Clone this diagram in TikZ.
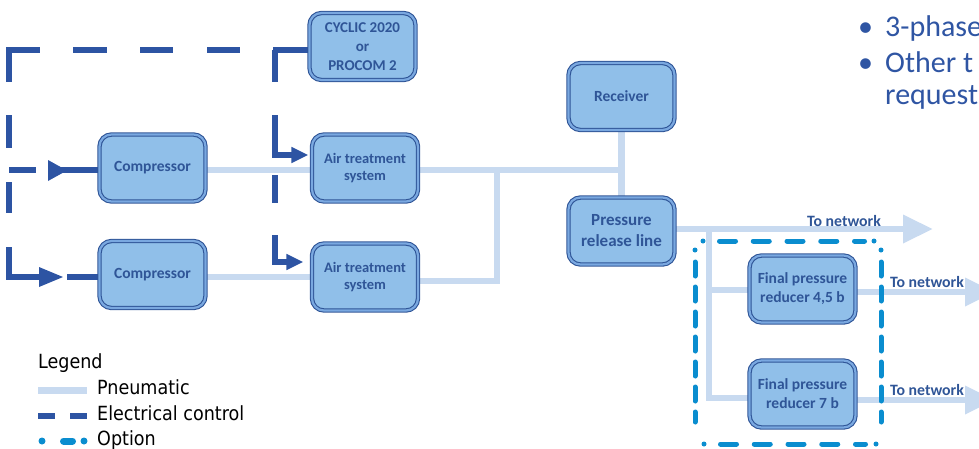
\documentclass[tikz,border=0pt]{standalone}
\usepackage{fontspec}
\setmainfont{Carlito}
\newfontfamily\legfont{DejaVu Sans Condensed}
\usetikzlibrary{arrows.meta}
\definecolor{boxdark}{HTML}{2F5597}
\definecolor{boxfill}{HTML}{90BFE9}
\definecolor{boxgap}{HTML}{7AA8E0}
\definecolor{pneuc}{HTML}{C8DAF0}
\definecolor{elecc}{HTML}{2D54A3}
\definecolor{optc}{HTML}{0A8DCF}
\definecolor{bulc}{HTML}{2F55A3}
\pgfdeclarelayer{bg}
\pgfsetlayers{bg,main}
\tikzset{
  box/.style={rounded corners=12pt, draw=boxdark, line width=1.1pt, double=boxgap,
    double distance=2.2pt, fill=boxfill, minimum width=106pt, minimum height=67pt,
    align=center, text=boxdark, inner sep=1pt},
  pneu/.style={draw=pneuc, line width=6.5pt},
  pneuarrow/.style={pneu, -{Triangle[length=30pt,width=27pt]}},
  elec/.style={draw=elecc, line width=5.5pt},
  elecarrow/.style={elec, -{Triangle[length=17pt,width=15pt]}},
  opt/.style={draw=optc, line width=5pt, line cap=round},
  netlabel/.style={text=boxdark, font=\bfseries\fontsize{15.8}{18}\selectfont, inner sep=0pt},
  legtext/.style={font=\legfont\fontsize{19.5}{22}\selectfont, text=black, inner sep=0pt, anchor=base west},
  bultext/.style={font=\fontsize{30}{34}\selectfont, text=bulc, inner sep=0pt, anchor=base west},
}
\begin{document}
\begin{tikzpicture}[x=1pt,y=-1pt]
\useasboundingbox (0,0) rectangle (979,448);
\begin{scope}
\clip (0,0) rectangle (979,448);
% ---------------- nodes
\node[box, font=\bfseries\fontsize{15}{19}\selectfont] (cyc) at (362.5,46.5) {CYCLIC 2020\\or\\PROCOM 2};
\node[box, font=\bfseries\fontsize{15.5}{19}\selectfont] (cmp1) at (152.5,168) {Compressor};
\node[box, font=\bfseries\fontsize{15.5}{19}\selectfont] (cmp2) at (152.5,274.5) {Compressor};
\node[box, font=\bfseries\fontsize{14.5}{17.5}\selectfont] (ats1) at (365,168) {Air treatment\\system};
\node[box, font=\bfseries\fontsize{14.5}{17.5}\selectfont] (ats2) at (365,277) {Air treatment\\system};
\node[box, font=\bfseries\fontsize{15.5}{19}\selectfont] (rcv) at (621.5,96.5) {Receiver};
\node[box, font=\bfseries\fontsize{17}{21}\selectfont] (prl) at (621.5,231) {Pressure\\release line};
\node[box, font=\bfseries\fontsize{15.5}{19}\selectfont] (fpr1) at (802.5,289) {Final pressure\\reducer 4,5 b};
\node[box, font=\bfseries\fontsize{15.5}{19}\selectfont] (fpr2) at (802.5,394) {Final pressure\\reducer 7 b};
% labels
\node[netlabel] (tn1) at (844,221) {To network};
\node[netlabel] (tn2) at (927,282) {To network};
\node[netlabel] (tn3) at (927,390) {To network};
% bullets
\node[bultext] (b1d) at (858,36) {•};
\node[bultext] (b1) at (885,36) {3-phase};
\node[bultext] (b2d) at (858,72) {•};
\node[bultext] (b2) at (885,72) {Other t};
\node[bultext] (b3) at (885,104) {request};
% coordinates
\coordinate (j1) at (497,170);
\coordinate (j2) at (497,281);
\coordinate (pA) at (0,170);
\coordinate (pB) at (0,277);
\coordinate (pE) at (933,229);
\coordinate (k1) at (709,229);
\coordinate (k2) at (709,290);
\coordinate (k3) at (709,398);
\coordinate (pF) at (995,292);
\coordinate (pG) at (995,400);
\coordinate (eTL) at (9,50);
\coordinate (eBL) at (9,277);
\coordinate (eML) at (9,170);
\coordinate (eTR) at (275,50);
\coordinate (eMR) at (275,155);
\coordinate (eBR) at (275,262);
\coordinate (tipA) at (67,170.5);
\coordinate (tipB) at (63,277);
% ---------------- connectors (behind)
\begin{pgfonlayer}{bg}
\draw[pneu] (cmp1.east |- pA) -- (ats1.west |- pA);
\draw[pneu] (ats1.east |- pA) -- (rcv.south |- pA);
\draw[pneu] (rcv.south) -- (prl.north);
\draw[pneu] (cmp2.east |- pB) -- (ats2.west |- pB);
\draw[pneu] (ats2.east |- j2) -- (j2) -- (j1);
\draw[pneuarrow] (prl.east |- pE) -- (pE);
\draw[pneu] (k1) -- (k3) -- (fpr2.west |- k3);
\draw[pneu] (k2) -- (fpr1.west |- k2);
\draw[pneuarrow] (fpr1.east |- pF) -- (pF);
\draw[pneuarrow] (fpr2.east |- pG) -- (pG);
% electrical control
\draw[elec, dash pattern=on 36pt off 33pt on 33pt off 34pt on 33pt off 33pt on 34pt off 33pt on 63pt off 33pt on 33pt off 34pt on 31pt off 34pt on 60pt off 28pt on 40pt]
  (cyc.west |- eTL) -- (eTL) -- (eBL) -- (cmp2.west |- eBL);
\draw[elec, dash pattern=on 27pt off 12pt on 100pt] (eML) -- (cmp1.west |- eML);
\draw[elecarrow, dash pattern=on 32pt off 33pt on 200pt, shorten >=3pt] (eTR) -- (eMR) -- (ats1.west |- eMR);
\draw[elecarrow, dash pattern=on 0pt off 20pt on 28pt off 32pt on 200pt, shorten >=8pt] (eMR) -- (eBR) -- (ats2.west |- eBR);
\fill[elecc] (tipA) -- ++(-19,10.5) -- ++(0,-21) -- cycle;
\fill[elecc] (tipB) -- ++(-24,10) -- ++(0,-20) -- cycle;
\end{pgfonlayer}
% ---------------- option box (four edges)
\coordinate (o1) at (703,241);
\coordinate (o2) at (874,241);
\coordinate (o3) at (704,444);
\coordinate (o4) at (876,444);
\coordinate (o5) at (695,250);
\coordinate (o6) at (695,432);
\coordinate (o7) at (881,250);
\coordinate (o8) at (881,432);
\draw[opt, dash pattern=on 0pt off 16.5pt on 16pt off 17.75pt on 16pt off 17.75pt on 16pt off 17.75pt on 16pt off 17.75pt on 10pt off 9.5pt on 0pt off 100pt] (o1) -- (o2);
\draw[opt, dash pattern=on 0pt off 16.5pt on 16pt off 17.75pt on 16pt off 17.75pt on 16pt off 17.75pt on 16pt off 17.75pt on 10pt off 10.5pt on 0pt off 100pt] (o3) -- (o4);
\draw[opt, dash pattern=on 0pt off 12pt on 14pt off 11pt on 14pt off 11pt on 14pt off 11pt on 14pt off 11pt on 14pt off 11pt on 14pt off 11pt on 10pt off 10pt on 0pt off 100pt] (o5) -- (o6);
\draw[opt, dash pattern=on 0pt off 12pt on 14pt off 11pt on 14pt off 11pt on 14pt off 11pt on 14pt off 11pt on 14pt off 11pt on 14pt off 11pt on 10pt off 10pt on 0pt off 100pt] (o7) -- (o8);
% ---------------- legend
\node[legtext] (lg) at (38,368) {Legend};
\coordinate (l1a) at (38,390);
\coordinate (l1b) at (87,390);
\coordinate (l2a) at (38,416);
\coordinate (l2b) at (87,416);
\coordinate (l3a) at (42,441);
\coordinate (l3b) at (84,441);
\draw[pneu, line width=7pt] (l1a) -- (l1b);
\draw[elec, line width=6pt, dash pattern=on 17pt off 15pt on 17pt] (l2a) -- (l2b);
\draw[opt, line width=7pt, dash pattern=on 0pt off 21.5pt on 9pt off 11.5pt on 0pt off 50pt] (l3a) -- (l3b);
\node[legtext] (lgp) at (97,394) {Pneumatic};
\node[legtext] (lge) at (97,420) {Electrical control};
\node[legtext] (lgo) at (97,445) {Option};
\end{scope}
\end{tikzpicture}
\end{document}
